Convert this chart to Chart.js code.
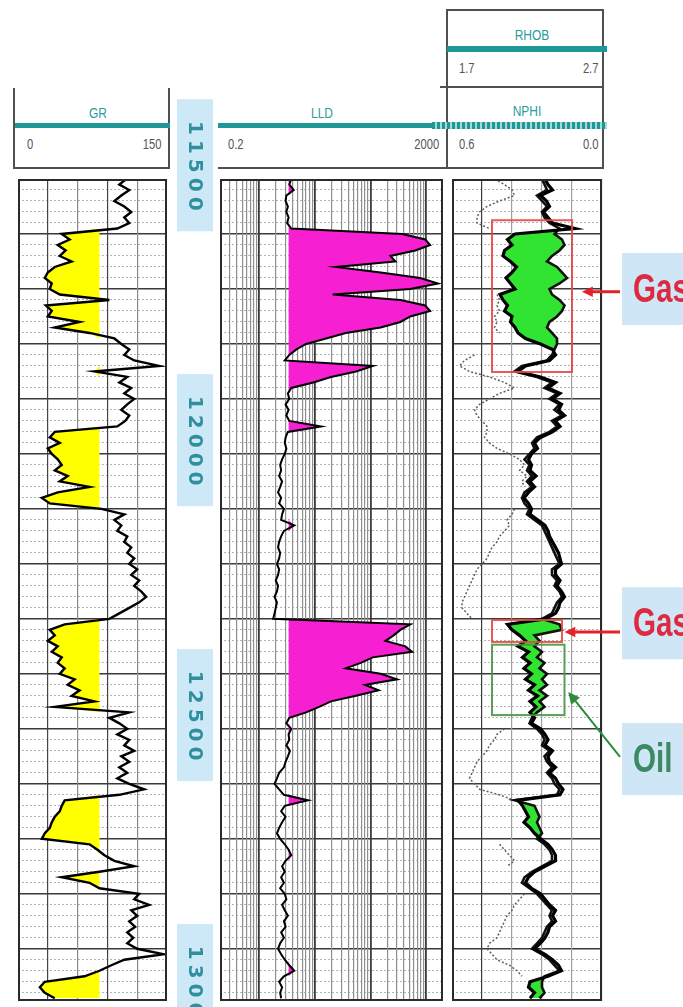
<!DOCTYPE html>
<html>
<head>
<meta charset="utf-8">
<script src="https://cdn.jsdelivr.net/npm/chart.js@4.4.1/dist/chart.umd.min.js"></script>
<style>
  html, body { margin: 0; padding: 0; background: #fff; }
  body { width: 683px; height: 1007px; position: relative; overflow: hidden;
         font-family: "Liberation Sans Narrow", "Liberation Sans", sans-serif; }
  .ln { position: absolute; background: #505050; }
  .teal { position: absolute; background: #1d9896; }
  .dots { position: absolute; background: repeating-linear-gradient(90deg, #1d9896 0 3px, #a9d8d6 3px 5px); }
  .name { position: absolute; color: #2b9c9a; font-size: 15px; transform: translateX(-50%) scaleX(0.8); }
  .tick { position: absolute; color: #555; font-size: 14px; transform: scaleX(0.8); transform-origin: left top; }
  .tick.r { transform-origin: right top; text-align: right; }
  canvas { position: absolute; top: 0; }
</style>
</head>
<body>
<!-- GR header -->
<div class="ln" style="left:13px;top:88px;width:2px;height:81px"></div>
<div class="ln" style="left:168px;top:88px;width:2px;height:81px"></div>
<div class="ln" style="left:13px;top:167px;width:157px;height:2px"></div>
<div class="teal" style="left:15px;top:123px;width:155px;height:5px"></div>
<div class="name" style="left:98px;top:104px">GR</div>
<div class="tick" style="left:27px;top:136px">0</div>
<div class="tick r" style="right:522px;top:136px">150</div>
<!-- LLD header -->
<div class="teal" style="left:218px;top:123px;width:229px;height:5px"></div>
<div class="ln" style="left:218px;top:167px;width:229px;height:2px"></div>
<div class="name" style="left:322px;top:104px">LLD</div>
<div class="tick" style="left:228px;top:136px">0.2</div>
<div class="tick r" style="right:244px;top:136px">2000</div>
<!-- RHOB / NPHI header -->
<div class="ln" style="left:446px;top:9px;width:2px;height:160px"></div>
<div class="ln" style="left:602px;top:9px;width:2px;height:160px"></div>
<div class="ln" style="left:446px;top:9px;width:158px;height:2px"></div>
<div class="teal" style="left:447px;top:46px;width:160px;height:6px"></div>
<div class="name" style="left:532px;top:26px">RHOB</div>
<div class="tick" style="left:459px;top:60px">1.7</div>
<div class="tick r" style="right:85px;top:60px">2.7</div>
<div class="ln" style="left:440px;top:86px;width:164px;height:2px"></div>
<div class="name" style="left:527px;top:102px">NPHI</div>
<div class="dots" style="left:432px;top:122px;width:175px;height:7px"></div>
<div class="ln" style="left:446px;top:167px;width:158px;height:2px"></div>
<div class="tick" style="left:459px;top:136px">0.6</div>
<div class="tick r" style="right:85px;top:136px">0.0</div>

<canvas id="grChart" width="149" height="1007" style="left:18px"></canvas>
<canvas id="depthChart" width="46" height="1007" style="left:172px"></canvas>
<canvas id="lldChart" width="223" height="1007" style="left:220px"></canvas>
<canvas id="densChart" width="231" height="1007" style="left:452px"></canvas>

<script>
// depth sampling: 10 ft steps from the top of the tracks
const DEPTH_TOP = 11525;
const DEPTH_BASE = 13020;
const DEPTH_STEP = 10;

const depthLabels = [11500, 12000, 12500, 13000];

// GR, API (0 - 150)
const grValues = [
  109, 102, 112, 104, 97, 107, 114, 107, 112, 100,
  44, 52, 40, 48, 42, 54, 37, 30, 27, 34,
  32, 42, 92, 28, 34, 30, 62, 37, 72, 97,
  104, 112, 107, 117, 142, 77, 110, 102, 114, 107,
  117, 110, 104, 112, 108, 100, 37, 32, 42, 30,
  34, 40, 44, 37, 50, 42, 72, 40, 24, 32,
  84, 107, 97, 104, 100, 110, 107, 114, 110, 117,
  112, 120, 114, 122, 117, 124, 129, 122, 112, 102,
  92, 47, 32, 37, 30, 40, 34, 44, 40, 47,
  42, 57, 50, 62, 54, 77, 37, 112, 92, 102,
  110, 100, 112, 107, 117, 104, 112, 102, 110, 100,
  112, 127, 102, 47, 44, 42, 37, 34, 32, 27,
  24, 72, 80, 87, 97, 117, 82, 44, 72, 82,
  122, 117, 132, 114, 120, 112, 118, 110, 116, 110,
  120, 147, 107, 94, 82, 67, 27, 22, 27, 37
];
const GR_CUT = 82;

// LLD, ohm.m (0.2 - 2000, log)
const lldValues = [
  3.8, 3.5, 4.2, 3.1, 3.0, 3.3, 3.1, 3.4, 3.2, 3.8,
  370, 960, 1175, 635, 228, 280, 24, 152, 780, 1630,
  518, 21, 344, 957, 1175, 518, 344, 152, 36, 16,
  7, 4.7, 3.5, 2.9, 110, 55, 19.6, 9.4, 3.8, 3.3,
  3.5, 3.0, 3.4, 3.1, 3.5, 13, 3.3, 3.0, 2.9, 3.1,
  2.9, 2.6, 2.4, 2.5, 2.3, 2.6, 2.4, 2.2, 2.5, 2.3,
  2.8, 2.6, 2.5, 4.3, 2.8, 2.5, 2.3, 2.2, 2.4, 2.3,
  2.1, 2.3, 2.2, 2.0, 2.2, 2.1, 1.9, 2.1, 2.0, 1.9,
  1.8, 518, 344, 260, 186, 422, 560, 110, 67, 36,
  152, 300, 80, 140, 55, 19.6, 12, 7, 3.5, 3.1,
  3.8, 3.4, 3.5, 3.1, 3.6, 3.3, 3.0, 2.8, 2.3, 2.1,
  1.9, 2.3, 2.8, 7.6, 2.9, 2.5, 3.0, 2.6, 2.3, 2.1,
  2.4, 2.9, 3.4, 3.8, 3.0, 2.6, 2.9, 2.5, 2.8, 2.4,
  2.9, 3.1, 2.6, 2.9, 3.3, 2.8, 3.0, 2.5, 2.8, 2.4,
  2.2, 2.5, 2.9, 3.5, 4.3, 2.8, 2.3, 2.6, 2.4, 2.5
];
const LLD_CUT = 3.4;

// RHOB, g/cc (1.7 - 2.7)
const rhobValues = [
  2.32, 2.34, 2.37, 2.29, 2.33, 2.35, 2.31, 2.34, 2.37, 2.52,
  2.12, 2.07, 2.10, 2.05, 2.04, 2.09, 2.13, 2.10, 2.06, 2.09,
  2.12, 2.02, 2.04, 2.07, 2.05, 2.10, 2.09, 2.12, 2.14, 2.19,
  2.29, 2.37, 2.39, 2.35, 2.19, 2.14, 2.29, 2.39, 2.34, 2.42,
  2.37, 2.43, 2.41, 2.45, 2.39, 2.42, 2.37, 2.29, 2.25, 2.27,
  2.23, 2.21, 2.23, 2.22, 2.26, 2.22, 2.25, 2.21, 2.18, 2.21,
  2.23, 2.22, 2.27, 2.32, 2.34, 2.35, 2.37, 2.39, 2.41, 2.42,
  2.43, 2.39, 2.39, 2.42, 2.40, 2.43, 2.45, 2.42, 2.41, 2.39,
  2.32, 2.07, 2.10, 2.15, 2.19, 2.14, 2.21, 2.17, 2.22, 2.18,
  2.23, 2.19, 2.25, 2.21, 2.27, 2.22, 2.26, 2.22, 2.25, 2.23,
  2.29, 2.32, 2.34, 2.32, 2.37, 2.34, 2.35, 2.39, 2.35, 2.39,
  2.41, 2.44, 2.42, 2.14, 2.17, 2.19, 2.21, 2.18, 2.22, 2.25,
  2.29, 2.34, 2.37, 2.39, 2.39, 2.32, 2.25, 2.21, 2.19, 2.23,
  2.29, 2.32, 2.35, 2.39, 2.37, 2.39, 2.35, 2.34, 2.32, 2.29,
  2.25, 2.32, 2.37, 2.41, 2.43, 2.34, 2.22, 2.21, 2.25, 2.22
];

// NPHI, v/v (0.6 - 0.0)
const nphiValues = [
  0.24, 0.23, 0.22, 0.26, 0.24, 0.22, 0.24, 0.23, 0.21, 0.17,
  0.19, 0.16, 0.15, 0.17, 0.20, 0.22, 0.18, 0.16, 0.14, 0.17,
  0.21, 0.20, 0.17, 0.15, 0.16, 0.18, 0.21, 0.22, 0.20, 0.18,
  0.18, 0.19, 0.20, 0.22, 0.32, 0.35, 0.26, 0.20, 0.23, 0.18,
  0.21, 0.17, 0.19, 0.16, 0.20, 0.18, 0.21, 0.26, 0.28, 0.27,
  0.29, 0.31, 0.29, 0.30, 0.28, 0.30, 0.28, 0.31, 0.32, 0.31,
  0.29, 0.30, 0.27, 0.24, 0.23, 0.22, 0.21, 0.20, 0.19, 0.18,
  0.17, 0.20, 0.20, 0.18, 0.19, 0.17, 0.16, 0.18, 0.19, 0.20,
  0.24, 0.17, 0.16, 0.27, 0.25, 0.27, 0.24, 0.26, 0.23, 0.25,
  0.22, 0.24, 0.22, 0.25, 0.22, 0.25, 0.23, 0.26, 0.28, 0.29,
  0.26, 0.24, 0.23, 0.24, 0.21, 0.23, 0.22, 0.20, 0.22, 0.20,
  0.19, 0.17, 0.18, 0.35, 0.27, 0.26, 0.25, 0.26, 0.25, 0.24,
  0.26, 0.23, 0.21, 0.20, 0.20, 0.24, 0.28, 0.31, 0.32, 0.29,
  0.26, 0.24, 0.22, 0.20, 0.21, 0.20, 0.22, 0.23, 0.24, 0.26,
  0.28, 0.24, 0.21, 0.19, 0.17, 0.23, 0.24, 0.24, 0.23, 0.25
];

// faint dotted curve in the density track, read on the NPHI scale
const auxValues = [
  0.43, 0.39, 0.36, 0.35, 0.41, 0.46, 0.49, 0.50, 0.50, 0.45,
  null, null, null, null, null, null, null, null, null, null,
  null, 0.42, 0.41, 0.42, 0.41, 0.43, 0.42, 0.43, 0.41, null,
  null, null, 0.51, 0.55, 0.57, 0.53, 0.45, 0.39, 0.35, 0.41,
  0.45, 0.49, 0.51, 0.50, 0.48, 0.46, 0.46, 0.47, 0.45, 0.42,
  0.37, 0.33, 0.31, 0.33, 0.30, 0.32, 0.31, null, null, null,
  0.35, 0.36, 0.38, 0.37, 0.39, 0.41, 0.42, 0.44, 0.45, 0.46,
  0.48, 0.50, 0.51, 0.52, 0.53, 0.54, 0.55, 0.56, 0.56, 0.54,
  0.52, null, null, null, null, null, null, null, null, null,
  null, null, null, null, null, null, null, null, null, null,
  0.39, 0.42, 0.43, 0.45, 0.46, 0.48, 0.50, 0.51, 0.52, 0.53,
  0.51, 0.49, 0.41, 0.35, null, null, null, null, null, null,
  null, 0.41, 0.39, 0.37, 0.35, 0.38, null, null, null, null,
  0.31, 0.33, 0.35, 0.36, 0.38, 0.39, 0.40, 0.41, 0.42, 0.45,
  0.46, 0.44, 0.42, 0.37, 0.34, 0.32, null, null, null, null
];

// interpreted zones (depth in ft, box edges on the NPHI scale)
const zoneNames = ['Gas', 'Gas', 'Oil'];
const zoneTop = [11600, 12327, 12372];
const zoneBase = [11876, 12367, 12500];
const zoneNphiLeft = [0.44, 0.44, 0.44];
const zoneNphiRight = [0.12, 0.16, 0.15];
const labelDepth = [11725, 12333, 12580];
const arrowTailDepth = [11730, 12349, 12576];
const arrowTipDepth = [11730, 12349, 12458];
const arrowTipNphi = [0.08, 0.15, 0.135];

const depth = grValues.map((v, i) => DEPTH_TOP + i * DEPTH_STEP);
const pts = values => depth.map((d, i) => ({ x: values[i], y: d }));

const majorDepths = [];
const minorDepths = [];
for (let d = DEPTH_TOP + 20; d < DEPTH_BASE; d += 20) {
  if ((d - 11625) % 100 === 0) majorDepths.push(d); else minorDepths.push(d);
}

const PAD = { top: 179, bottom: 6, left: 0, right: 0 };

function depthScales() {
  return {
    yMinor: {
      type: 'linear', min: DEPTH_TOP, max: DEPTH_BASE, reverse: true, z: -1,
      ticks: { display: false },
      border: { display: false, dash: [2, 2] },
      grid: { drawTicks: false, color: '#b3b3b3', lineWidth: 1 },
      afterBuildTicks: s => { s.ticks = minorDepths.map(v => ({ value: v })); }
    },
    y: {
      type: 'linear', min: DEPTH_TOP, max: DEPTH_BASE, reverse: true,
      ticks: { display: false },
      border: { display: false },
      grid: { drawTicks: false, color: '#3a3a3a', lineWidth: 1.4 },
      afterBuildTicks: s => { s.ticks = majorDepths.map(v => ({ value: v })); }
    }
  };
}

const framePlugin = {
  id: 'frame',
  afterDraw(chart) {
    const { ctx, chartArea: a } = chart;
    ctx.save();
    ctx.strokeStyle = '#2a2a2a';
    ctx.lineWidth = 2;
    ctx.strokeRect(a.left + 1, a.top + 1, a.right - a.left - 2, a.bottom - a.top - 2);
    ctx.restore();
  }
};

function baseOptions(scales, padRight) {
  return {
    responsive: false,
    animation: false,
    indexAxis: 'y',
    layout: { padding: Object.assign({}, PAD, { right: padRight || 0 }) },
    plugins: { legend: { display: false }, tooltip: { enabled: false } },
    elements: { point: { radius: 0 }, line: { tension: 0 } },
    scales: Object.assign(depthScales(), scales)
  };
}

// ---- GR track
new Chart(document.getElementById('grChart'), {
  type: 'line',
  data: {
    datasets: [
      { label: 'GR', data: pts(grValues), borderColor: '#000', borderWidth: 2.4, fill: false },
      { label: 'GR shade', data: pts(grValues.map(v => Math.min(v, GR_CUT))),
        borderWidth: 0, backgroundColor: '#ffff00', fill: { value: GR_CUT } }
    ]
  },
  options: baseOptions({
    x: {
      type: 'linear', min: 0, max: 150,
      ticks: { display: false }, border: { display: false },
      grid: { drawTicks: false, lineWidth: 1.2,
        color: c => (c.tick && (c.tick.value === 30 || c.tick.value === 90)) ? '#444' : '#8a8a8a' },
      afterBuildTicks: s => { s.ticks = [0, 30, 60, 90, 120, 150].map(v => ({ value: v })); }
    }
  }),
  plugins: [framePlugin]
});

// ---- depth column
new Chart(document.getElementById('depthChart'), {
  type: 'line',
  data: { datasets: [] },
  options: {
    responsive: false, animation: false,
    layout: { padding: PAD },
    plugins: { legend: { display: false }, tooltip: { enabled: false } },
    scales: {
      x: { type: 'linear', min: 0, max: 1, display: false },
      y: { type: 'linear', min: DEPTH_TOP, max: DEPTH_BASE, reverse: true, display: false }
    }
  },
  plugins: [{
    id: 'depthLabels',
    afterDraw(chart) {
      const { ctx } = chart;
      const y = chart.scales.y;
      depthLabels.forEach(d => {
        const cy = y.getPixelForValue(d);
        ctx.save();
        ctx.fillStyle = '#cde8f7';
        ctx.fillRect(5, cy - 66, 36, 132);
        ctx.translate(23, cy);
        ctx.rotate(Math.PI / 2);
        ctx.fillStyle = '#2f8f9e';
        ctx.font = 'bold 20px "DejaVu Sans"';
        ctx.letterSpacing = '5px';
        ctx.textAlign = 'center';
        ctx.textBaseline = 'middle';
        ctx.fillText(String(d), 3, 1);
        ctx.restore();
      });
    }
  }]
});

// ---- LLD track
const lldTicks = [];
[0.1, 1, 10, 100, 1000].forEach(dec => {
  for (let m = 1; m <= 9; m++) {
    const v = +(m * dec).toPrecision(3);
    if (v >= 0.2 && v <= 2000) lldTicks.push(v);
  }
});

new Chart(document.getElementById('lldChart'), {
  type: 'line',
  data: {
    datasets: [
      { label: 'LLD', data: pts(lldValues), borderColor: '#000', borderWidth: 2, fill: false },
      { label: 'LLD shade', data: pts(lldValues.map(v => Math.max(v, LLD_CUT))),
        borderWidth: 0, backgroundColor: '#f61fd2', fill: { value: LLD_CUT } }
    ]
  },
  options: baseOptions({
    x: {
      type: 'logarithmic', min: 0.2, max: 2000,
      ticks: { display: false }, border: { display: false },
      grid: { drawTicks: false,
        color: c => {
          const v = c.tick && c.tick.value;
          return [1, 10, 100, 1000].includes(v) ? '#3c3c3c' : '#8f8f8f';
        },
        lineWidth: c => [1, 10, 100, 1000].includes(c.tick && c.tick.value) ? 1.8 : 1.2 },
      afterBuildTicks: s => { s.ticks = lldTicks.map(v => ({ value: v })); }
    }
  }),
  plugins: [framePlugin]
});

// ---- density / neutron track
const rhobAsNphi = v => 1.7 + (0.6 - v) / 0.6;   // NPHI position expressed on the RHOB scale
const crossRhob = rhobValues.map((v, i) => Math.min(v, rhobAsNphi(nphiValues[i])));

function arrow(ctx, x1, y1, x2, y2, color, width, head) {
  const ang = Math.atan2(y2 - y1, x2 - x1);
  ctx.save();
  ctx.strokeStyle = color;
  ctx.fillStyle = color;
  ctx.lineWidth = width;
  ctx.beginPath();
  ctx.moveTo(x1, y1);
  ctx.lineTo(x2 - Math.cos(ang) * head * 0.8, y2 - Math.sin(ang) * head * 0.8);
  ctx.stroke();
  ctx.beginPath();
  ctx.moveTo(x2, y2);
  ctx.lineTo(x2 - head * Math.cos(ang - 0.45), y2 - head * Math.sin(ang - 0.45));
  ctx.lineTo(x2 - head * Math.cos(ang + 0.45), y2 - head * Math.sin(ang + 0.45));
  ctx.closePath();
  ctx.fill();
  ctx.restore();
}

const zonePlugin = {
  id: 'zones',
  afterDatasetsDraw(chart) {
    const { ctx } = chart;
    const x = chart.scales.x, y = chart.scales.y;
    zoneNames.forEach((name, i) => {
      const x1 = x.getPixelForValue(zoneNphiLeft[i]);
      const x2 = x.getPixelForValue(zoneNphiRight[i]);
      const y1 = y.getPixelForValue(zoneTop[i]);
      const y2 = y.getPixelForValue(zoneBase[i]);
      ctx.save();
      ctx.strokeStyle = name === 'Oil' ? 'rgba(70,150,70,0.9)' : 'rgba(226,74,66,0.9)';
      ctx.lineWidth = 2;
      ctx.strokeRect(x1, y1, x2 - x1, y2 - y1);
      ctx.restore();
    });
  },
  afterDraw(chart) {
    const { ctx, chartArea } = chart;
    const x = chart.scales.x, y = chart.scales.y;
    const bx = chartArea.right + 20;
    zoneNames.forEach((name, i) => {
      const cy = y.getPixelForValue(labelDepth[i]);
      ctx.save();
      ctx.fillStyle = '#cfe6f6';
      ctx.fillRect(bx, cy - 36, 70, 72);
      ctx.translate(bx + 11, cy + 2);
      ctx.scale(0.74, 1);
      ctx.font = 'bold 40px "Liberation Sans"';
      ctx.textBaseline = 'middle';
      ctx.fillStyle = name === 'Oil' ? '#3d8a62' : '#dc2a40';
      ctx.fillText(name, 0, 0);
      ctx.restore();
      const isOil = name === 'Oil';
      arrow(ctx, bx - 2, y.getPixelForValue(arrowTailDepth[i]),
        x.getPixelForValue(arrowTipNphi[i]), y.getPixelForValue(arrowTipDepth[i]),
        isOil ? '#2f8a3e' : '#e3232b', isOil ? 2 : 3, isOil ? 13 : 12);
    });
  }
};

new Chart(document.getElementById('densChart'), {
  type: 'line',
  data: {
    datasets: [
      { label: 'RHOB', data: pts(rhobValues), xAxisID: 'x2', borderColor: '#000', borderWidth: 3.2, fill: false },
      { label: 'NPHI', data: pts(nphiValues), xAxisID: 'x', borderColor: '#111', borderWidth: 2.6, fill: false },
      { label: 'aux', data: pts(auxValues), xAxisID: 'x', borderColor: '#5e5e5e', borderWidth: 1.5,
        borderDash: [2, 2], fill: false },
      { label: 'crossover', data: pts(crossRhob), xAxisID: 'x2', borderWidth: 0,
        backgroundColor: '#31e431', fill: { target: 1 } }
    ]
  },
  options: baseOptions({
    x: {
      type: 'linear', min: 0, max: 0.6, reverse: true,
      ticks: { display: false }, border: { display: false },
      grid: { drawTicks: false, lineWidth: 1.2,
        color: c => (c.tick && Math.abs(c.tick.value - 0.48) < 0.001) ? '#3c3c3c' : '#a0a0a0' },
      afterBuildTicks: s => { s.ticks = [0, 0.12, 0.24, 0.36, 0.48, 0.6].map(v => ({ value: v })); }
    },
    x2: { type: 'linear', min: 1.7, max: 2.7, display: false }
  }, 81),
  plugins: [framePlugin, zonePlugin]
});
</script>
</body>
</html>
